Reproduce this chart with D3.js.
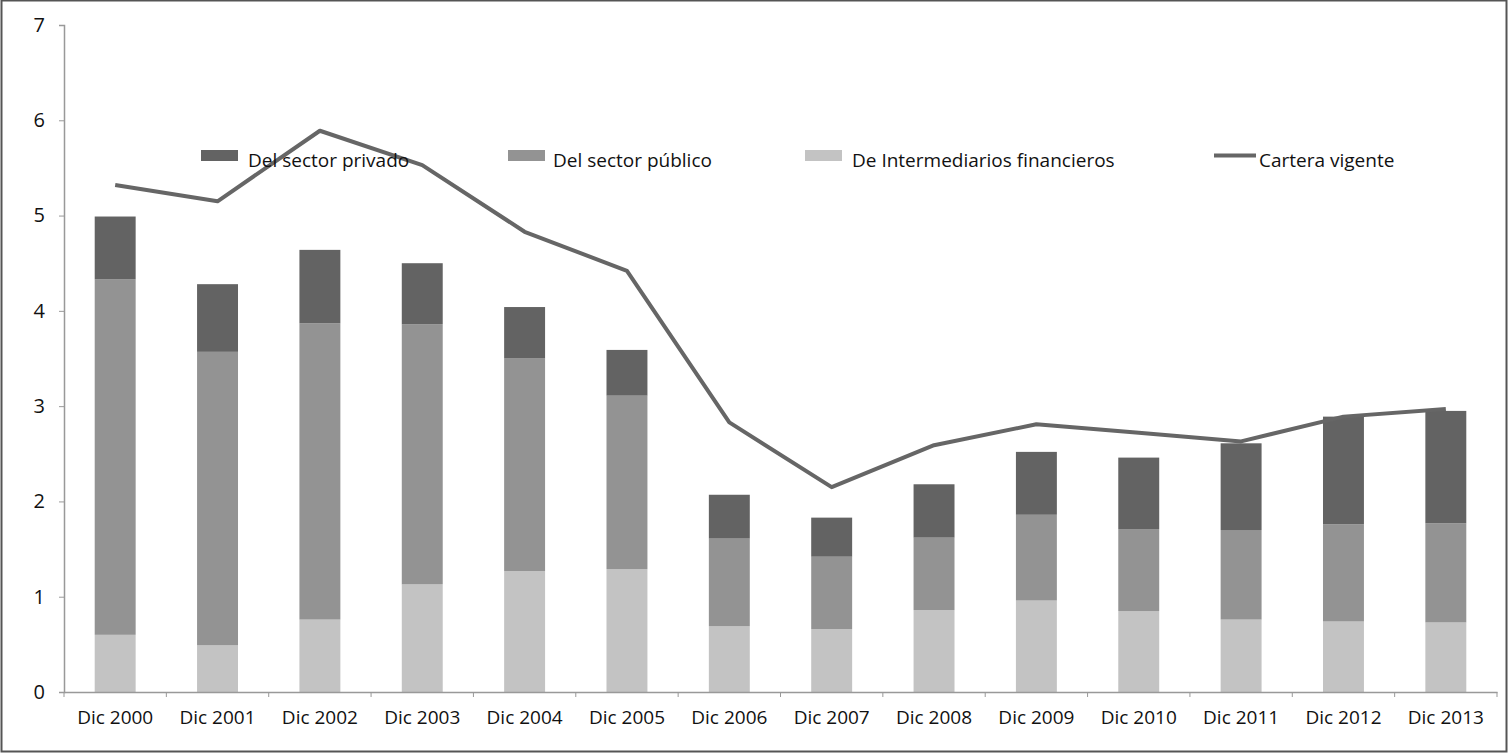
<!DOCTYPE html>
<html>
<head>
<meta charset="utf-8">
<script src="https://cdn.jsdelivr.net/npm/d3@7"></script>
<style>
  body { margin: 0; background: #fff; }
  svg text { font-family: "Open Sans", "Noto Sans", sans-serif; fill: #111; }
</style>
</head>
<body>
<div id="chart"></div>
<script>
// categories and series
var years = ["Dic 2000", "Dic 2001", "Dic 2002", "Dic 2003", "Dic 2004", "Dic 2005", "Dic 2006",
             "Dic 2007", "Dic 2008", "Dic 2009", "Dic 2010", "Dic 2011", "Dic 2012", "Dic 2013"];
var intermediarios = [0.60, 0.49, 0.76, 1.13, 1.27, 1.29, 0.69, 0.66, 0.86, 0.96, 0.85, 0.76, 0.74, 0.73];
var publico        = [3.73, 3.08, 3.11, 2.73, 2.23, 1.82, 0.92, 0.76, 0.76, 0.90, 0.86, 0.94, 1.02, 1.04];
var privado        = [0.66, 0.71, 0.77, 0.64, 0.54, 0.48, 0.46, 0.41, 0.56, 0.66, 0.75, 0.91, 1.13, 1.18];
var cartera        = [5.32, 5.15, 5.89, 5.53, 4.83, 4.42, 2.83, 2.15, 2.59, 2.81, 2.72, 2.63, 2.89, 2.97];
var yTicks = [0, 1, 2, 3, 4, 5, 6, 7];

var W = 1510, H = 756;
var margin = {top: 25, right: 13, bottom: 64, left: 64},
    width = W - margin.left - margin.right,
    height = H - margin.top - margin.bottom;

var svg = d3.select("#chart").append("svg")
    .attr("width", W)
    .attr("height", H);

// outer frame
svg.append("rect")
    .attr("x", 1.5).attr("y", 0.5)
    .attr("width", W - 5).attr("height", H - 5)
    .attr("fill", "none")
    .attr("stroke", "#555")
    .attr("stroke-width", 2);

var g = svg.append("g")
    .attr("transform", "translate(" + margin.left + "," + margin.top + ")");

var x = d3.scaleBand()
    .domain(years)
    .range([0, width])
    .paddingInner(0.6)
    .paddingOuter(0.3);

var y = d3.scaleLinear()
    .domain([0, 7])
    .range([height, 0]);

// stacked data
var rows = years.map(function(d, i) {
  return {year: d, inter: intermediarios[i], pub: publico[i], priv: privado[i]};
});
var keys = ["inter", "pub", "priv"];
var colors = {inter: "#c3c3c3", pub: "#939393", priv: "#636363"};
var stacked = d3.stack().keys(keys)(rows);

g.selectAll("g.layer")
  .data(stacked)
  .join("g")
    .attr("class", "layer")
    .attr("fill", function(d) { return colors[d.key]; })
  .selectAll("rect")
  .data(function(d) { return d; })
  .join("rect")
    .attr("x", function(d) { return x(d.data.year); })
    .attr("y", function(d) { return y(d[1]); })
    .attr("width", x.bandwidth())
    .attr("height", function(d) { return y(d[0]) - y(d[1]); });

// axes
var yAxis = g.append("g")
    .call(d3.axisLeft(y).tickValues(yTicks).tickSize(5).tickPadding(14).tickFormat(d3.format("d")));
yAxis.selectAll("text").style("font-size", "20px");

// x axis: ticks at band boundaries
var xAxis = g.append("g")
    .attr("transform", "translate(0," + height + ")")
    .call(d3.axisBottom(x).tickSize(0).tickPadding(19));
xAxis.selectAll("text").style("font-size", "19px");
var step = x.step();
xAxis.selectAll("line.bound")
  .data(d3.range(years.length + 1))
  .join("line")
    .attr("class", "bound")
    .attr("x1", function(i) { return i * step; })
    .attr("x2", function(i) { return i * step; })
    .attr("y1", 0).attr("y2", 5)
    .attr("stroke", "#999");

g.selectAll(".domain").attr("stroke", "#999").attr("stroke-width", 1.5);
yAxis.selectAll(".tick line").attr("stroke", "#999");

// legend
var legend = [
  {label: "Del sector privado", color: colors.priv, type: "rect", x: 201, tx: 248},
  {label: "Del sector público", color: colors.pub, type: "rect", x: 508, tx: 553},
  {label: "De Intermediarios financieros", color: colors.inter, type: "rect", x: 805, tx: 852},
  {label: "Cartera vigente", color: "#666", type: "line", x: 1214, tx: 1259}
];
var lg = svg.append("g");
legend.forEach(function(d) {
  if (d.type === "rect") {
    lg.append("rect").attr("x", d.x).attr("y", 150).attr("width", 37).attr("height", 11).attr("fill", d.color);
  } else {
    lg.append("line").attr("x1", d.x).attr("x2", d.x + 42).attr("y1", 155.5).attr("y2", 155.5)
      .attr("stroke", d.color).attr("stroke-width", 4);
  }
  lg.append("text").attr("x", d.tx).attr("y", 167).style("font-size", "19px").text(d.label);
});

// line
var line = d3.line()
    .x(function(d, i) { return x(years[i]) + x.bandwidth() / 2; })
    .y(function(d) { return y(d); });

g.append("path")
    .datum(cartera)
    .attr("d", line)
    .attr("fill", "none")
    .attr("stroke", "#666")
    .attr("stroke-width", 4)
    .attr("stroke-linejoin", "round");
</script>
</body>
</html>
